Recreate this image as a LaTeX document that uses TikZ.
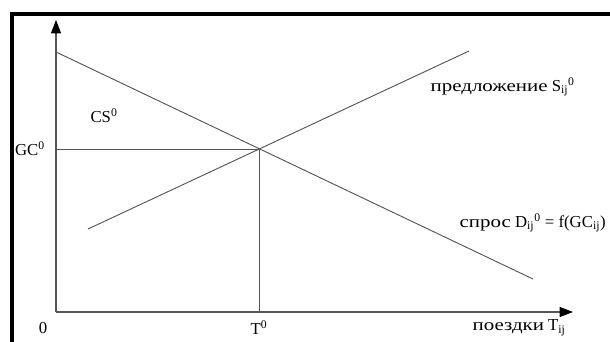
\documentclass[tikz,border=0pt]{standalone}
\usepackage{fontspec}
\setmainfont{Liberation Serif}
\newfontfamily\cyrwide{Liberation Serif}[FakeStretch=1.25]
\usetikzlibrary{arrows.meta, positioning}
\definecolor{cline}{HTML}{555555}
\tikzset{
  every picture/.style={font=\fontsize{14.3}{16}\selectfont, line width=0.8pt},
  curve/.style={draw=cline, line width=0.8pt},
  axis/.style={-{Triangle[length=4mm, width=3mm, color=black]}, draw=cline, line width=0.9pt},
  frame/.style={draw=black, line width=3.4pt},
  lbl/.style={inner sep=1pt, text=black},
}
\begin{document}
\begin{tikzpicture}[x=0.03cm, y=-0.03cm]
  \useasboundingbox (0,0) rectangle (610,342);
  \draw[frame] (12,342) -- (12,14) -- (610,14);
  % axes
  \coordinate (o) at (56,312);
  \coordinate (ytop) at (56,20);
  \coordinate (xend) at (573,312);
  \draw[axis] (o) -- (ytop);
  \draw[axis] (o) -- (xend);
  % demand and supply
  \coordinate (d1) at (56,52);
  \coordinate (d2) at (533,279);
  \coordinate (s1) at (88,229);
  \coordinate (s2) at (469,51);
  \coordinate (eq) at (259,149);
  \coordinate (gc) at (56,149);
  \coordinate (t) at (259,312);
  \draw[curve] (d1) -- (d2);
  \draw[curve] (s1) -- (s2);
  \draw[curve] (gc) -- (eq) -- (t);
  % labels
  \node[lbl] (zero) at (43,328) {0};
  \node[lbl] (tlbl) at (259,328) {T\textsuperscript{0}};
  \node[lbl, anchor=west] (trips) at (471,328) {{\cyrwide поездки} T\textsubscript{ij}};
  \node[lbl] (gclbl) at (30,149) {GC\textsuperscript{0}};
  \node[lbl] (cs) at (104,116) {CS\textsuperscript{0}};
  \node[lbl, anchor=west] (supply) at (429,87) {{\cyrwide предложение} S\textsubscript{ij}\textsuperscript{0}};
  \node[lbl, anchor=west] (demand) at (458,223) {{\cyrwide спрос} D\textsubscript{ij}\textsuperscript{0} = f(GC\textsubscript{ij})};
\end{tikzpicture}
\end{document}
